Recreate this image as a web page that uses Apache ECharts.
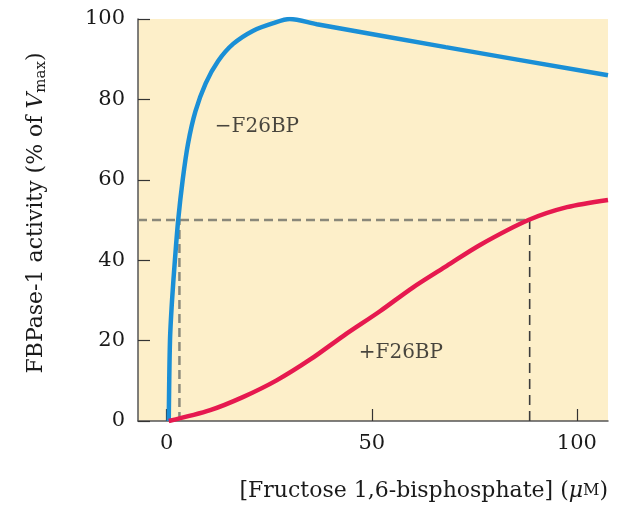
<!DOCTYPE html>
<html lang="en">
<head>
    <meta charset="UTF-8">
    <title>FBPase-1 activity</title>
    <script src="https://cdn.jsdelivr.net/npm/echarts@6/dist/echarts.min.js"></script>
    <style>
        html, body { margin: 0; padding: 0; background: #fff; }
        #main { width: 619px; height: 506px; }
    </style>
</head>
<body>
    <div id="main"></div>
    <script>
        // values
        var xTicks = [0, 50, 100]
        // -F26BP curve
        var noF26X = [0.5, 0.8, 1.3, 2.0, 2.8, 3.9, 5.2, 7.0, 9.5, 12.5, 16.2, 21.1, 26, 30, 36.6, 68, 107.6]
        var noF26Y = [0, 20, 30, 40, 50, 60, 69, 77, 84, 89.5, 93.8, 97.1, 99, 100, 98.7, 93, 86]
        // +F26BP curve
        var withF26X = [0.5, 10.6, 18.7, 26.8, 35, 43.1, 52, 60, 68.3, 76.4, 88.2, 97.6, 107.6]
        var withF26Y = [0, 2.7, 6, 10.1, 15.3, 21.2, 27.3, 33.2, 38.6, 43.8, 50, 53.2, 55]
        // half-max guide lines
        var halfLine = [[-7, 50], [88.5, 50]]
        var halfNoF26 = [[3.1, 0], [3.1, 50]]
        var halfWithF26 = [[88.5, 0], [88.5, 50]]
        // curve labels
        var curveLabels = [
            { name: '\u2212F26BP', value: [22, 73.2] },
            { name: '+F26BP', value: [57.1, 17] }
        ]

        function zip(xs, ys) {
            return xs.map(function (x, i) { return [x, ys[i]] })
        }

        var font = "'DejaVu Serif', serif"
        var ink = '#1a1a1a'
        var chart = echarts.init(document.getElementById('main'))
        var option = {
            animation: false,
            grid: {
                left: 138, right: 11, top: 19, bottom: 85,
                show: true, backgroundColor: '#fdefc9', borderWidth: 0,
                outerBoundsMode: 'none'
            },
            xAxis: {
                type: 'value',
                min: -7, max: 107.6,
                splitLine: { show: false },
                axisLine: { show: true, onZero: false, lineStyle: { color: '#555', width: 1.5 } },
                axisTick: { inside: true, length: 12, customValues: xTicks, lineStyle: { color: '#333', width: 1.2 } },
                axisLabel: { customValues: xTicks, margin: 12, color: ink, fontFamily: font, fontSize: 21 },
                name: '{n|[Fructose 1,6-bisphosphate] (}{i|\u03bc}{sc|M}{n|)}',
                nameLocation: 'end',
                nameGap: 0,
                nameTextStyle: {
                    align: 'right', verticalAlign: 'top', padding: [59, 0, 0, 0],
                    rich: {
                        n: { fontFamily: font, fontSize: 22, color: ink },
                        i: { fontFamily: font, fontSize: 22, fontStyle: 'italic', color: ink },
                        sc: { fontFamily: font, fontSize: 16, color: ink }
                    }
                }
            },
            yAxis: {
                type: 'value',
                min: 0, max: 100, interval: 20,
                splitLine: { show: false },
                axisLine: { show: true, onZero: false, lineStyle: { color: '#555', width: 1.5 } },
                axisTick: { inside: true, length: 12, lineStyle: { color: '#333', width: 1.2 } },
                axisLabel: { margin: 13, color: ink, fontFamily: font, fontSize: 21 },
                name: '{n|FBPase-1 activity (% of }{i|V}{s|max}{n|)}',
                nameLocation: 'middle',
                nameGap: 89,
                nameTextStyle: {
                    padding: [0, 0, 0, 14],
                    rich: {
                        n: { fontFamily: font, fontSize: 22, color: ink },
                        i: { fontFamily: font, fontSize: 22, fontStyle: 'italic', color: ink },
                        s: { fontFamily: font, fontSize: 15, color: ink, verticalAlign: 'bottom', padding: [11, 0, 0, 0] }
                    }
                }
            },
            series: [
                {
                    type: 'line', data: halfLine, symbol: 'none', silent: true,
                    lineStyle: { color: '#8a887a', width: 2.5, type: [9, 5] }
                },
                {
                    type: 'line', data: halfNoF26, symbol: 'none', silent: true,
                    lineStyle: { color: '#8a887a', width: 2.5, type: [9, 5] }
                },
                {
                    type: 'line', data: halfWithF26, symbol: 'none', silent: true,
                    lineStyle: { color: '#3c3c3c', width: 1.6, type: [10, 6] }
                },
                {
                    name: '-F26BP', type: 'line', data: zip(noF26X, noF26Y),
                    symbol: 'none', smooth: 0.3,
                    lineStyle: { color: '#1a8fd6', width: 4.5 }
                },
                {
                    name: '+F26BP', type: 'line', data: zip(withF26X, withF26Y),
                    symbol: 'none', smooth: 0.3,
                    lineStyle: { color: '#e6194f', width: 4.5 }
                },
                {
                    type: 'scatter', data: curveLabels, symbolSize: 0, silent: true,
                    label: {
                        show: true, position: 'inside', formatter: '{b}',
                        color: ink, fontFamily: font, fontSize: 20
                    }
                }
            ]
        }
        chart.setOption(option)
    </script>
</body>
</html>
